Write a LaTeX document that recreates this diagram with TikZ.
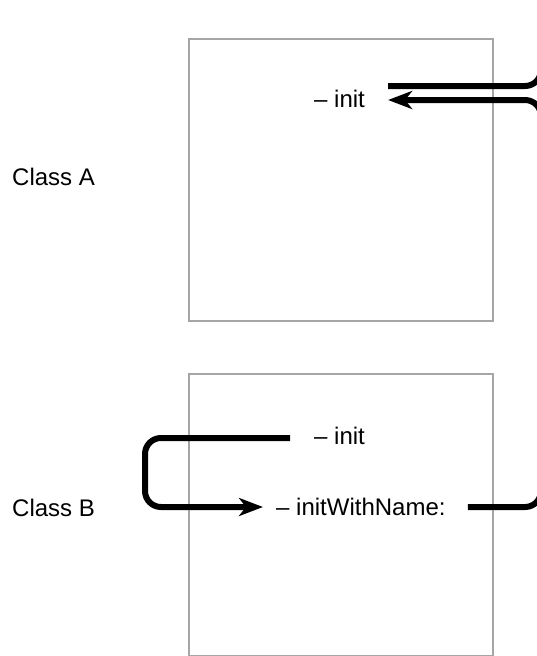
\documentclass[tikz,border=0pt]{standalone}
\usepackage{fontspec}
\setmainfont{Liberation Sans}
\usetikzlibrary{arrows.meta}
\definecolor{boxgray}{HTML}{A6A6A6}
\tikzset{
  classbox/.style={draw=boxgray, line width=2.2pt, minimum width=304pt, minimum height=282pt, inner sep=0pt},
  lbl/.style={font=\fontsize{24}{27}\selectfont, inner sep=0pt, anchor=west},
  conn/.style={line width=6pt, rounded corners=16pt},
  tip/.style={-{Stealth[length=24pt,width=18pt,inset=7pt]}}
}
\begin{document}
\begin{tikzpicture}[x=1pt,y=-1pt]
\useasboundingbox (0,0) rectangle (537,656);
\clip (0,0) rectangle (537,656);
\node[classbox] (boxA) at (341,180) {};
\node[classbox] (boxB) at (341,515) {};
\node[lbl] (classA) at (12,177) {Class A};
\node[lbl] (classB) at (12,508) {Class B};
\node[lbl] (initA) at (314,99) {– init};
\node[lbl] (initB) at (314,436) {– init};
\node[lbl] (iwn) at (276,507) {– initWithName:};
\coordinate (up) at (541,-40);
\coordinate (rtop) at (541,86);
\coordinate (rmid) at (541,100);
\coordinate (rbot) at (541,507);
% from init (A) out to the superclass
\draw[conn] ([shift={(23,-13)}]initA.east) -- (rtop) -- (up);
% initWithName: -> init (A)
\draw[conn,tip] ([xshift=22pt]iwn.east) -- (rbot) -- (rmid) -- ([shift={(23,1)}]initA.east);
% init (B) -> initWithName:
\draw[conn,tip] ([shift={(-24,2)}]initB.west) -- (145,438) -- (145,507) -- ([xshift=-13pt]iwn.west);
\end{tikzpicture}
\end{document}
